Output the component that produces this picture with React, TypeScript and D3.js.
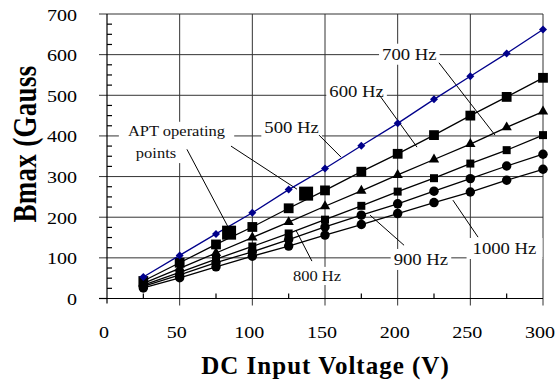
import React, { useEffect, useRef } from 'react';
import * as d3 from 'd3';

// DC input voltage (V) for every measured point
const volts = [25, 50, 75, 100, 125, 150, 175, 200, 225, 250, 275, 300];

// Bmax (Gauss) per switching frequency
const b500 = [53, 106, 159, 211, 268, 320, 376, 431, 490, 547, 603, 662];
const b600 = [43, 88, 133, 176, 222, 266, 312, 356, 402, 450, 496, 543];
const b700 = [37, 74, 112, 150, 188, 227, 265, 304, 342, 380, 421, 460];
const b800 = [33, 64, 97, 128, 160, 194, 228, 263, 296, 332, 365, 402];
const b900 = [30, 58, 88, 115, 145, 176, 205, 233, 264, 295, 326, 355];
const b1000 = [26, 51, 78, 104, 129, 156, 182, 209, 236, 262, 291, 318];

// APT operating points
const aptVolts = [84, 137];
const aptBmax = [162, 258];

const xTicks = [0, 50, 100, 150, 200, 250, 300];
const yTicks = [0, 100, 200, 300, 400, 500, 600, 700];
const minorStep = 25;

const series = [
  { name: '500 Hz', values: b500, shape: 'diamond', size: 32, color: '#00008b' },
  { name: '600 Hz', values: b600, shape: 'square', size: 96, color: '#000' },
  { name: '700 Hz', values: b700, shape: 'triangle', size: 46, color: '#000' },
  { name: '800 Hz', values: b800, shape: 'square', size: 64, color: '#000' },
  { name: '900 Hz', values: b900, shape: 'circle', size: 70, color: '#000' },
  { name: '1000 Hz', values: b1000, shape: 'circle', size: 70, color: '#000' },
];

// callout texts, in data units (voltage, gauss of the baseline)
const notes = [
  { group: 0, text: '700 Hz', v: 208, b: 587, size: 17 },
  { group: 1, text: '600 Hz', v: 171.7, b: 496.5, size: 17 },
  { group: 2, text: '500 Hz', v: 127, b: 408, size: 17 },
  { group: 3, text: 'APT operating', v: 47.8, b: 399.6, size: 15 },
  { group: 3, text: 'points', v: 33.7, b: 345, size: 15 },
  { group: 4, text: '800 Hz', v: 144.5, b: 42.6, size: 15 },
  { group: 5, text: '900 Hz', v: 216, b: 82, size: 17 },
  { group: 6, text: '1000 Hz', v: 273.5, b: 109, size: 17 },
];
const notePad = [3, 3, 3, 9, 3, 3, 6];

// leader lines [v1, b1, v2, b2]
const leaders = [
  [228.4, 580, 267, 402],
  [186.5, 505, 213.3, 372.5],
  [145.9, 402, 161, 348],
  [85.3, 375, 130.7, 269],
  [55, 367, 83.3, 176],
  [130, 168, 141, 92],
  [181, 205, 204.4, 131],
  [238, 242, 255.3, 151],
];

const FONT = '"Liberation Serif", "Times New Roman", serif';

const App = () => {
  const svgRef = useRef<SVGSVGElement>(null);

  useEffect(() => {
    const width = 560;
    const height = 383;
    const svg = d3.select(svgRef.current);
    svg.selectAll('*').remove();
    svg.attr('width', width).attr('height', height);

    const x = d3.scaleLinear().domain([0, 300]).range([107, 543]);
    const y = d3.scaleLinear().domain([0, 700]).range([298.5, 14]);
    const [x0, x1] = x.range();
    const [y0, y1] = y.range();

    svg.append('rect').attr('width', width).attr('height', height).attr('fill', '#fff');

    // grid
    const grid = svg.append('g').attr('stroke', '#333').attr('stroke-width', 1);
    yTicks.filter(d => d > 0).forEach(d => {
      grid.append('line').attr('x1', x0 - 8).attr('x2', x1).attr('y1', y(d)).attr('y2', y(d));
    });
    xTicks.filter(d => d > 0).forEach(d => {
      grid.append('line').attr('x1', x(d)).attr('x2', x(d)).attr('y1', y1).attr('y2', y0 + 7);
    });

    // axes
    const axes = svg.append('g').attr('stroke', '#000').attr('stroke-width', 1.2);
    axes.append('line').attr('x1', x0).attr('x2', x0).attr('y1', y1).attr('y2', y0 + 5);
    axes.append('line').attr('x1', x0 - 4).attr('x2', x1).attr('y1', y0).attr('y2', y0);
    axes.append('line').attr('x1', x0 - 8).attr('x2', x0).attr('y1', y(0)).attr('y2', y(0));
    d3.range(minorStep, 700, minorStep).filter(d => d % 100 !== 0).forEach(d => {
      axes.append('line').attr('x1', x0).attr('x2', x0 + 5).attr('y1', y(d)).attr('y2', y(d));
    });
    d3.range(minorStep, 300, minorStep).filter(d => d % 50 !== 0).forEach(d => {
      axes.append('line').attr('x1', x(d)).attr('x2', x(d)).attr('y1', y0).attr('y2', y0 - 5);
    });

    // tick labels
    yTicks.forEach(d => {
      svg.append('text')
        .attr('transform', `translate(${x0 - 30},${y(d) + 6.5}) scale(1.18,1)`)
        .attr('text-anchor', 'end')
        .attr('font-family', FONT).attr('font-size', 17)
        .text(d);
    });
    xTicks.forEach(d => {
      svg.append('text')
        .attr('transform', `translate(${x(d) - 3},338) scale(1.18,1)`)
        .attr('text-anchor', 'middle')
        .attr('font-family', FONT).attr('font-size', 17)
        .text(d);
    });

    // axis titles
    svg.append('text')
      .attr('x', 325.5).attr('y', 374)
      .attr('text-anchor', 'middle')
      .attr('font-family', FONT).attr('font-size', 25).attr('font-weight', 'bold')
      .attr('letter-spacing', 1)
      .text('DC Input Voltage (V)');
    svg.append('text')
      .attr('transform', 'translate(36,144) scale(1.25,1) rotate(-90)')
      .attr('text-anchor', 'middle')
      .attr('font-family', FONT).attr('font-size', 27).attr('font-weight', 'bold')
      .attr('letter-spacing', 0.3)
      .text('Bmax (Gauss');

    // callouts: white boxes cut the grid behind the texts
    const boxes = svg.append('g');
    const noteText = svg.append('g');
    const nodes = notes.map(n =>
      noteText.append('text')
        .attr('transform', `translate(${x(n.v)},${y(n.b)}) scale(1.1,1)`)
        .attr('text-anchor', 'middle')
        .attr('font-family', FONT).attr('font-size', n.size)
        .attr('fill', '#111')
        .text(n.text)
    );
    const svgBox = svgRef.current!.getBoundingClientRect();
    d3.groups(notes.map((n, i) => ({ n, node: nodes[i].node() as SVGTextElement })), d => d.n.group)
      .forEach(([g, items]) => {
        const rs = items.map(it => it.node.getBoundingClientRect());
        const left = d3.min(rs, r => r.left)! - svgBox.left;
        const right = d3.max(rs, r => r.right)! - svgBox.left;
        const top = d3.min(rs, r => r.top)! - svgBox.top;
        const bottom = d3.max(rs, r => r.bottom)! - svgBox.top;
        const p = notePad[g];
        boxes.append('rect')
          .attr('x', left - p).attr('y', top - 1)
          .attr('width', right - left + 2 * p).attr('height', bottom - top + 2)
          .attr('fill', '#fff');
      });

    svg.append('g').attr('stroke', '#000').attr('stroke-width', 1)
      .selectAll('line').data(leaders).join('line')
      .attr('x1', d => x(d[0])).attr('y1', d => y(d[1]))
      .attr('x2', d => x(d[2])).attr('y2', d => y(d[3]));

    // series, drawn bottom-up so the blue line stays on top
    const line = d3.line<number>().x((_, i) => x(volts[i])).y(d => y(d));
    const symbols: Record<string, d3.SymbolType> = {
      diamond: d3.symbolSquare,
      square: d3.symbolSquare,
      triangle: d3.symbolTriangle,
      circle: d3.symbolCircle,
    };
    [...series].reverse().forEach(s => {
      const g = svg.append('g');
      g.append('path')
        .attr('d', line(s.values))
        .attr('fill', 'none')
        .attr('stroke', s.color)
        .attr('stroke-width', 1.3);
      const sym = d3.symbol().type(symbols[s.shape]).size(s.size);
      g.selectAll('path.pt').data(s.values).join('path')
        .attr('class', 'pt')
        .attr('d', sym())
        .attr('fill', s.color)
        .attr('transform', (d, i) =>
          `translate(${x(volts[i])},${y(d)})` + (s.shape === 'diamond' ? ' rotate(45)' : ''));
    });

    const big = d3.symbol().type(d3.symbolSquare).size(196);
    svg.append('g').selectAll('path').data(aptVolts).join('path')
      .attr('d', big())
      .attr('fill', '#000')
      .attr('transform', (d, i) => `translate(${x(d)},${y(aptBmax[i])})`);
  }, []);

  return (
    <svg ref={svgRef} style={{ position: 'absolute', left: 0, top: 0, display: 'block' }}></svg>
  );
};

export default App;
